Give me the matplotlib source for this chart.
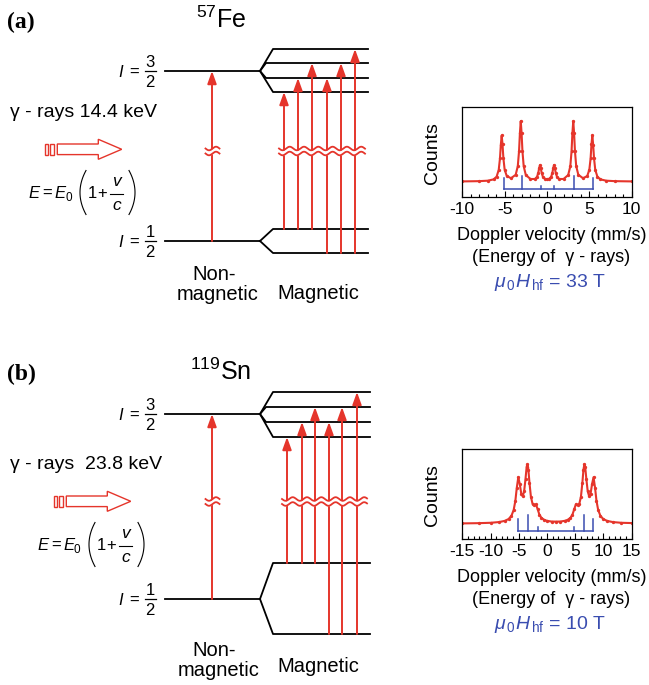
import numpy as np
import matplotlib.pyplot as plt
from matplotlib.patches import Polygon
from matplotlib.ticker import MultipleLocator

plt.rcParams['font.family'] = ['Liberation Sans', 'DejaVu Sans']
plt.rcParams['mathtext.fontset'] = 'custom'
plt.rcParams['mathtext.rm'] = 'Liberation Sans'
plt.rcParams['mathtext.it'] = 'Liberation Sans:italic'
plt.rcParams['mathtext.bf'] = 'Liberation Sans:bold'
plt.rcParams['axes.unicode_minus'] = False

RED = '#e5352b'
BLUE = '#3a4db0'

# 57Fe sextet (velocity in mm/s, counts normalised to the plot height)
fe_velocity = [-10, -8, -7, -6.3, -5.95, -5.7, -5.55, -5.45, -5.35, -5.25, -5.15, -5.0,
               -4.75, -4.25, -3.7, -3.45, -3.3, -3.2, -3.1, -3.0, -2.9, -2.75, -2.5,
               -1.95, -1.43, -1.18, -1.03, -0.93, -0.83, -0.73, -0.63, -0.48, -0.23, 0,
               0.23, 0.48, 0.63, 0.73, 0.83, 0.93, 1.03, 1.18, 1.43, 1.95, 2.5, 2.75,
               2.9, 3.0, 3.1, 3.2, 3.3, 3.45, 3.7, 4.25, 4.75, 5.0, 5.15, 5.25, 5.35,
               5.45, 5.55, 5.7, 5.95, 6.3, 7, 8, 10]
fe_counts = [0.171, 0.174, 0.179, 0.194, 0.224, 0.300, 0.430, 0.583, 0.685, 0.584, 0.431, 0.303,
             0.231, 0.207, 0.245, 0.341, 0.510, 0.710, 0.845, 0.711, 0.510, 0.340, 0.242,
             0.198, 0.198, 0.222, 0.266, 0.318, 0.354, 0.318, 0.265, 0.221, 0.199, 0.196,
             0.199, 0.221, 0.265, 0.318, 0.354, 0.318, 0.266, 0.222, 0.198, 0.198, 0.242, 0.340,
             0.510, 0.711, 0.845, 0.710, 0.510, 0.341, 0.245, 0.207, 0.231, 0.303, 0.431, 0.584, 0.685,
             0.583, 0.430, 0.300, 0.224, 0.194, 0.179, 0.174, 0.171]
fe_lines = [-5.05, -3.0, -0.72, 0.86, 3.19, 5.45]
fe_line_int = [0.115, 0.145, 0.03, 0.03, 0.145, 0.115]
fe_ticks = [-10, -5, 0, 5, 10]

# 119Sn sextet
sn_velocity = [-15, -12, -10, -8.5, -7.5, -6.8, -6.3, -5.9, -5.6, -5.35, -5.08, -4.82,
               -4.55, -4.3, -4.05, -3.8, -3.6, -3.46, -3.3, -3.1, -2.85, -2.55, -2.25,
               -1.95, -1.65, -1.35, -1.0, -0.5, 0, 0.8, 1.58, 2.36, 3.16, 3.66, 4.16,
               4.51, 4.81, 5.11, 5.41, 5.71, 6.01, 6.26, 6.46, 6.62, 6.76, 6.96, 7.21,
               7.46, 7.71, 7.98, 8.24, 8.51, 8.76, 9.06, 9.46, 9.96, 10.66, 11.66, 13.16, 15]
sn_counts = [0.171, 0.174, 0.178, 0.186, 0.199, 0.220, 0.256, 0.322, 0.425, 0.570, 0.688, 0.611,
             0.501, 0.475, 0.530, 0.673, 0.806, 0.833, 0.774, 0.622, 0.470, 0.387, 0.376,
             0.384, 0.328, 0.270, 0.234, 0.211, 0.200, 0.192, 0.191, 0.192, 0.200, 0.211, 0.234,
             0.270, 0.328, 0.384, 0.376, 0.387, 0.470, 0.622, 0.774, 0.833, 0.806, 0.673, 0.530,
             0.475, 0.501, 0.611, 0.688, 0.570, 0.425, 0.322, 0.256, 0.220, 0.199, 0.186, 0.178, 0.175]
sn_lines = [-5.08, -3.31, -1.54, 4.78, 6.55, 8.2]
sn_line_int = [0.13, 0.175, 0.037, 0.037, 0.175, 0.13]
sn_ticks = [-15, -10, -5, 0, 5, 10, 15]

fig = plt.figure(figsize=(6.49, 6.85), dpi=100)
ax = fig.add_axes([0, 0, 1, 1])
ax.set_xlim(0, 649)
ax.set_ylim(685, 0)
ax.axis('off')


def levels(y_exc, y_gnd, exc_sub, gnd_sub, x_end):
    # unsplit levels
    for y in (y_exc, y_gnd):
        ax.plot([165, 260], [y, y], color='k', lw=1.3, zorder=1)
    # Zeeman split excited state: outer lines fan out further
    for i, y in enumerate(exc_sub):
        xb = 273 if i in (0, 3) else 266
        ax.plot([260, xb, x_end], [y_exc, y, y], color='k', lw=1.3, zorder=1)
    for y in gnd_sub:
        ax.plot([260, 273, x_end], [y_gnd, y, y], color='k', lw=1.3, zorder=1)


def up_arrow(x, y0, y1):
    ax.annotate('', xy=(x, y1), xytext=(x, y0),
                arrowprops=dict(arrowstyle='-|>,head_length=0.75,head_width=0.27',
                                color=RED, lw=1.4, shrinkA=0, shrinkB=0), zorder=2)


def wavy_break(x0, x1, yc, period):
    xs = np.linspace(x0, x1, 200)
    w = 1.8 * np.sin(2 * np.pi * (xs - x0) / period)
    top = yc - 2.5 + w
    bot = yc + 2.5 + w
    ax.fill_between(xs, top, bot, color='white', zorder=3, lw=0)
    ax.plot(xs, top, color=RED, lw=1.3, zorder=4)
    ax.plot(xs, bot, color=RED, lw=1.3, zorder=4)


def hollow_arrow(x0, yc):
    for a, b in ((0, 2.7), (5, 9.3)):
        ax.add_patch(Polygon([(x0 + a, yc - 5.3), (x0 + b, yc - 5.3),
                              (x0 + b, yc + 5.3), (x0 + a, yc + 5.3)],
                             closed=True, fc='white', ec=RED, lw=1.0))
    pts = [(x0 + 12.3, yc - 5.3), (x0 + 53.3, yc - 5.3), (x0 + 53.3, yc - 10),
           (x0 + 76.7, yc), (x0 + 53.3, yc + 10), (x0 + 53.3, yc + 5.3), (x0 + 12.3, yc + 5.3)]
    ax.add_patch(Polygon(pts, closed=True, fc='white', ec=RED, lw=1.0))


def spin_label(y, num):
    # I = num/2 with a stacked fraction
    ax.text(121, y + 6, 'I', style='italic', ha='center', va='baseline', size=12)
    ax.text(134, y + 6, '=', ha='center', va='baseline', size=12)
    ax.plot([144.5, 156], [y, y], color='k', lw=0.9)
    ax.text(150, y - 4, num, ha='center', va='baseline', size=12)
    ax.text(150, y + 16, '2', ha='center', va='baseline', size=12)


def paren(x_out, x_in, y0, y1):
    t = np.linspace(-1, 1, 50)
    ax.plot(x_out + (x_in - x_out) * t ** 2, (y0 + y1) / 2 + (y1 - y0) / 2 * t,
            color='k', lw=0.8)


def doppler_formula(x, y):
    # E = E0 (1 + v/c), x = left edge, y = middle of the brackets
    b = y + 5.5
    ax.text(x, b, 'E', style='italic', va='baseline', size=12)
    ax.text(x + 14, b, '=', va='baseline', size=12)
    ax.text(x + 26, b, 'E', style='italic', va='baseline', size=12)
    ax.text(x + 37, b + 3, '0', va='baseline', size=8.5)
    paren(x + 52, x + 58, y - 22, y + 22)
    ax.text(x + 60, b, '1', va='baseline', size=12)
    ax.text(x + 69.5, b, '+', va='baseline', size=12)
    ax.plot([x + 82, x + 95], [y + 1, y + 1], color='k', lw=0.8)
    ax.text(x + 88.5, y - 6.5, 'v', style='italic', ha='center', va='baseline', size=12.5)
    ax.text(x + 88.5, y + 17, 'c', style='italic', ha='center', va='baseline', size=12.5)
    paren(x + 107, x + 101, y - 22, y + 22)


def panel(dy, y_exc, y_gnd, exc_sub, gnd_sub, arrow_x, x_end, brk, tag, iso, energy, ax0):
    levels(y_exc, y_gnd, exc_sub, gnd_sub, x_end)
    # non-magnetic transition
    up_arrow(212, y_gnd, y_exc)
    # six allowed magnetic transitions (dm = 0, +-1)
    pairs = [(0, 3), (0, 2), (0, 1), (1, 2), (1, 1), (1, 0)]
    for x, (g, e) in zip(arrow_x, pairs):
        up_arrow(x, gnd_sub[g], exc_sub[e])
    wavy_break(205.5, 219.5, brk, 14)
    wavy_break(arrow_x[0] - 5, arrow_x[-1] + 10, brk, 14.3)

    ax.text(7, dy + 22, tag, family='Liberation Serif', weight='bold', size=17, va='center')
    ax.text(221, dy + 20, iso, ha='center', va='center', size=18)
    spin_label(y_exc, '3')
    spin_label(y_gnd, '1')
    ax.text(10, dy + 112, energy, va='center', size=14)
    hollow_arrow(45 + ax0, dy + 149.3)
    doppler_formula(28 + ax0, dy + 192.5)


panel(0, 71, 241, [49, 63, 78, 92], [229, 253],
      [284, 298, 312, 327, 341, 355], 368, 151, '(a)', r'$^{57}$Fe', 'γ - rays 14.4 keV', 0)
ax.text(214, 274, 'Non-', ha='center', va='center', size=14.5)
ax.text(218, 294, 'magnetic', ha='center', va='center', size=14.5)
ax.text(318, 293, 'Magnetic', ha='center', va='center', size=14.5)

panel(352, 414, 599, [392, 407, 422, 437], [563, 634],
      [287, 302, 315, 329, 342, 357], 370, 501.5, '(b)', r'$^{119}$Sn', 'γ - rays  23.8 keV', 9)
ax.text(214, 650, 'Non-', ha='center', va='center', size=14.5)
ax.text(219, 671, 'magnetic', ha='center', va='center', size=14.5)
ax.text(318, 667, 'Magnetic', ha='center', va='center', size=14.5)


def spectrum(top_px, v, c, lines, ints, ticks, field):
    sax = fig.add_axes([462.3 / 649, 1 - (top_px + 89.4) / 685, 169.4 / 649, 89.4 / 685])
    sax.plot(v, c, '-', color=RED, lw=1.5, marker='o', ms=2.4, mfc=RED, mec=RED, mew=0)
    base = 0.09
    sax.plot([lines[0], lines[-1]], [base, base], color=BLUE, lw=1.1)
    for x, h in zip(lines, ints):
        sax.plot([x, x], [base, base + h], color=BLUE, lw=1.1)
    sax.set_xlim(ticks[0], ticks[-1])
    sax.set_ylim(0, 1)
    sax.set_xticks(ticks)
    sax.xaxis.set_minor_locator(MultipleLocator(1))
    sax.set_yticks([])
    sax.tick_params(axis='x', which='major', direction='in', length=4, width=0.8,
                    labelsize=12.5, pad=4)
    sax.tick_params(axis='x', which='minor', direction='in', length=2.5, width=0.8)
    for s in sax.spines.values():
        s.set_linewidth(0.9)
    ax.text(433, top_px + 46, 'Counts', rotation=90, ha='center', va='center', size=14)
    ax.text(552, top_px + 128, 'Doppler velocity (mm/s)', ha='center', va='center', size=13)
    ax.text(551, top_px + 150, '(Energy of  γ - rays)', ha='center', va='center', size=13)
    ax.text(550, top_px + 175, r'$\mu_{\,0}H_{\,\mathrm{hf}}$ = ' + field,
            ha='center', va='center', size=14, color=BLUE)


spectrum(107.3, fe_velocity, fe_counts, fe_lines, fe_line_int, fe_ticks, '33 T')
spectrum(449.3, sn_velocity, sn_counts, sn_lines, sn_line_int, sn_ticks, '10 T')

fig.savefig('out.png', dpi=100)
